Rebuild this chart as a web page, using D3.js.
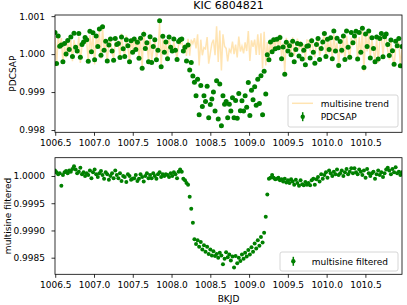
<!DOCTYPE html>
<meta charset="utf-8">
<script src="https://d3js.org/d3.v7.min.js"></script>
<style>
  body { margin: 0; background: #fff; }
  text { font-family: "DejaVu Sans", sans-serif; fill: #000; }
</style>
<div id="viz"></div>
<script>
// time stamps (BKJD)
const bjd = [
  1006.497, 1006.517, 1006.538, 1006.558, 1006.579, 1006.599, 1006.620, 1006.640, 1006.661, 1006.681,
  1006.701, 1006.722, 1006.742, 1006.763, 1006.783, 1006.804, 1006.824, 1006.845, 1006.865, 1006.885,
  1006.906, 1006.926, 1006.947, 1006.967, 1006.987, 1007.008, 1007.028, 1007.049, 1007.069, 1007.090,
  1007.110, 1007.130, 1007.151, 1007.171, 1007.192, 1007.212, 1007.233, 1007.253, 1007.274, 1007.294,
  1007.314, 1007.335, 1007.355, 1007.376, 1007.396, 1007.417, 1007.437, 1007.458, 1007.478, 1007.498,
  1007.519, 1007.539, 1007.560, 1007.580, 1007.600, 1007.621, 1007.641, 1007.662, 1007.682, 1007.703,
  1007.723, 1007.743, 1007.764, 1007.784, 1007.805, 1007.825, 1007.846, 1007.866, 1007.887, 1007.907,
  1007.927, 1007.948, 1007.968, 1007.989, 1008.009, 1008.030, 1008.050, 1008.071, 1008.091, 1008.111,
  1008.132, 1008.152, 1008.173, 1008.193, 1008.213, 1008.234, 1008.254, 1008.275, 1008.295, 1008.316,
  1008.336, 1008.356, 1008.377, 1008.397, 1008.418, 1008.438, 1008.459, 1008.479, 1008.500, 1008.520,
  1008.540, 1008.561, 1008.581, 1008.602, 1008.622, 1008.643, 1008.663, 1008.684, 1008.704, 1008.724,
  1008.745, 1008.765, 1008.786, 1008.806, 1008.826, 1008.847, 1008.867, 1008.888, 1008.908, 1008.929,
  1008.949, 1008.969, 1008.990, 1009.010, 1009.031, 1009.051, 1009.072, 1009.092, 1009.112, 1009.133,
  1009.153, 1009.174, 1009.194, 1009.215, 1009.235, 1009.256, 1009.276, 1009.297, 1009.317, 1009.337,
  1009.358, 1009.378, 1009.398, 1009.419, 1009.439, 1009.460, 1009.480, 1009.501, 1009.521, 1009.542,
  1009.562, 1009.582, 1009.603, 1009.623, 1009.644, 1009.664, 1009.685, 1009.705, 1009.726, 1009.746,
  1009.766, 1009.787, 1009.807, 1009.828, 1009.848, 1009.869, 1009.889, 1009.909, 1009.930, 1009.950,
  1009.971, 1009.991, 1010.011, 1010.032, 1010.052, 1010.073, 1010.093, 1010.114, 1010.134, 1010.155,
  1010.175, 1010.195, 1010.216, 1010.236, 1010.257, 1010.277, 1010.298, 1010.318, 1010.339, 1010.359,
  1010.379, 1010.400, 1010.420, 1010.441, 1010.461, 1010.481, 1010.502, 1010.522, 1010.543, 1010.563,
  1010.584, 1010.604, 1010.624, 1010.645, 1010.665, 1010.686, 1010.706, 1010.727, 1010.747, 1010.768,
  1010.788, 1010.808, 1010.829, 1010.849, 1010.870, 1010.890, 1010.910, 1010.931, 1010.951, 1010.972
];

// raw PDCSAP flux
const pdcsap = [
  1.00057, 0.99975, 1.00048, 1.00021, 1.00024, 0.99980, 1.00028, 1.00000, 1.00036, 1.00012,
  1.00045, 0.99994, 1.00055, 1.00018, 1.00008, 1.00054, 0.99992, 1.00025, 1.00032, 1.00044,
  1.00038, 0.99981, 1.00060, 1.00006, 1.00056, 0.99985, 1.00048, 1.00020, 1.00066, 0.99997,
  1.00072, 1.00010, 1.00034, 0.99982, 1.00024, 1.00040, 1.00008, 0.99984, 1.00041, 1.00025,
  1.00028, 0.99991, 1.00045, 1.00014, 0.99994, 1.00038, 1.00022, 0.99980, 1.00035, 1.00005,
  1.00040, 1.00012, 1.00031, 0.99989, 1.00042, 0.99963, 1.00052, 1.00015, 1.00030, 0.99980,
  1.00046, 0.99978, 1.00020, 1.00038, 0.99985, 1.00010, 1.00088, 0.99967, 1.00047, 1.00005,
  1.00032, 0.99988, 1.00045, 1.00018, 1.00008, 1.00040, 1.00010, 0.99986, 1.00033, 1.00038,
  1.00040, 1.00008, 1.00018, 0.99982, 1.00024, 0.99958, 0.99978, 0.99942, 0.99926, 0.99890,
  0.99934, 0.99840, 0.99917, 0.99862, 0.99890, 0.99875, 0.99915, 0.99832, 0.99867, 0.99882,
  0.99900, 0.99850, 0.99930, 0.99829, 0.99921, 0.99811, 0.99890, 0.99868, 0.99875, 0.99832,
  0.99868, 0.99850, 0.99885, 0.99832, 0.99878, 0.99831, 0.99896, 0.99851, 0.99877, 0.99850,
  0.99890, 0.99860, 0.99925, 0.99838, 0.99905, 0.99880, 0.99914, 0.99865, 0.99934, 0.99870,
  0.99943, 0.99840, 0.99955, 0.99895, 0.99998, 0.99985, 1.00032, 1.00006, 1.00038, 1.00014,
  1.00039, 1.00017, 1.00044, 0.99988, 1.00019, 0.99947, 1.00031, 1.00008, 1.00022, 0.99998,
  1.00034, 0.99980, 1.00012, 1.00028, 0.99995, 1.00026, 0.99987, 1.00010, 0.99972, 1.00021,
  1.00022, 0.99990, 1.00035, 1.00005, 0.99976, 1.00025, 1.00041, 0.99986, 1.00015, 1.00032,
  1.00054, 0.99994, 1.00039, 1.00012, 1.00043, 0.99988, 1.00061, 1.00008, 1.00042, 0.99970,
  1.00033, 1.00010, 1.00048, 0.99986, 1.00061, 1.00018, 0.99992, 1.00057, 1.00030, 1.00048,
  1.00060, 0.99987, 1.00057, 1.00005, 1.00068, 0.99965, 1.00053, 1.00020, 1.00061, 0.99990,
  1.00043, 1.00015, 0.99980, 1.00045, 0.99987, 1.00041, 1.00054, 0.99993, 1.00046, 1.00053,
  1.00025, 0.99996, 1.00037, 1.00009, 0.99973, 1.00034, 1.00022, 1.00041, 0.99969, 1.00020
];

// fitted multisine trend
const trend = [
  1.00047, 0.99968, 1.00045, 1.00016, 1.00042, 0.99978, 1.00021, 0.99991, 1.00031, 1.00002,
  1.00037, 0.99981, 1.00037, 1.00006, 1.00003, 1.00046, 0.99977, 1.00022, 1.00025, 1.00044,
  1.00033, 0.99979, 1.00050, 1.00010, 1.00049, 0.99973, 1.00045, 1.00022, 1.00061, 0.99988,
  1.00070, 1.00015, 1.00027, 0.99979, 1.00031, 1.00040, 1.00003, 0.99988, 1.00031, 1.00023,
  1.00032, 0.99986, 1.00054, 1.00014, 0.99996, 1.00049, 1.00019, 0.99980, 1.00042, 1.00010,
  1.00044, 1.00010, 1.00040, 0.99994, 1.00039, 0.99965, 1.00062, 1.00015, 1.00025, 0.99984,
  1.00044, 0.99982, 1.00015, 1.00038, 0.99990, 1.00007, 1.00081, 0.99969, 1.00044, 1.00005,
  1.00029, 0.99986, 1.00047, 1.00013, 1.00008, 1.00033, 1.00007, 0.99990, 1.00025, 1.00026,
  1.00032, 1.00013, 1.00026, 0.99995, 1.00040, 0.99996, 1.00038, 1.00028, 1.00042, 1.00015,
  1.00052, 0.99970, 1.00038, 0.99997, 1.00017, 1.00014, 1.00045, 0.99975, 1.00002, 1.00028,
  1.00038, 0.99997, 1.00073, 0.99979, 1.00062, 0.99957, 1.00052, 1.00020, 1.00015, 0.99981,
  1.00012, 1.00005, 1.00033, 1.00000, 1.00025, 0.99991, 1.00046, 1.00007, 1.00021, 1.00002,
  1.00031, 1.00008, 1.00061, 0.99982, 1.00036, 1.00019, 1.00038, 0.99998, 1.00052, 0.99998,
  1.00055, 0.99962, 1.00059, 0.99970, 1.00032, 0.99990, 1.00035, 1.00004, 1.00041, 1.00020,
  1.00044, 1.00020, 1.00052, 0.99994, 1.00029, 0.99952, 1.00043, 1.00016, 1.00035, 1.00004,
  1.00044, 0.99996, 1.00019, 1.00041, 1.00013, 1.00034, 1.00002, 1.00027, 0.99983, 1.00037,
  1.00035, 1.00007, 1.00043, 1.00010, 0.99992, 1.00031, 1.00043, 0.99996, 1.00012, 1.00037,
  1.00052, 0.99987, 1.00042, 1.00002, 1.00038, 0.99988, 1.00053, 1.00005, 1.00030, 0.99968,
  1.00028, 1.00000, 1.00048, 0.99979, 1.00048, 1.00015, 0.99984, 1.00043, 1.00025, 1.00034,
  1.00053, 0.99984, 1.00045, 0.99997, 1.00066, 0.99955, 1.00056, 1.00007, 1.00056, 0.99990,
  1.00038, 1.00007, 0.99985, 1.00042, 0.99977, 1.00039, 1.00047, 0.99995, 1.00041, 1.00041,
  1.00010, 0.99986, 1.00034, 0.99996, 0.99966, 1.00018, 1.00017, 1.00033, 0.99967, 1.00013
];

// PDCSAP with the multisine removed
const filtered = [
  1.00010, 1.00007, 1.00003, 1.00005, 0.99982, 1.00002, 1.00007, 1.00009, 1.00005, 1.00010,
  1.00008, 1.00013, 1.00018, 1.00012, 1.00005, 1.00008, 1.00015, 1.00003, 1.00007, 1.00000,
  1.00005, 1.00002, 1.00010, 0.99996, 1.00007, 1.00012, 1.00003, 0.99998, 1.00005, 1.00009,
  1.00002, 0.99995, 1.00007, 1.00003, 0.99993, 1.00000, 1.00005, 0.99996, 1.00010, 1.00002,
  0.99996, 1.00005, 0.99991, 1.00000, 0.99998, 0.99989, 1.00003, 1.00000, 0.99993, 0.99995,
  0.99996, 1.00002, 0.99991, 0.99995, 1.00003, 0.99998, 0.99990, 1.00000, 1.00005, 0.99996,
  1.00002, 0.99996, 1.00005, 1.00000, 0.99995, 1.00003, 1.00007, 0.99998, 1.00003, 1.00000,
  1.00003, 1.00002, 0.99998, 1.00005, 1.00000, 1.00007, 1.00003, 0.99996, 1.00008, 1.00012,
  1.00008, 0.99995, 0.99992, 0.99987, 0.99984, 0.99962, 0.99940, 0.99914, 0.99884, 0.99875,
  0.99882, 0.99870, 0.99879, 0.99865, 0.99873, 0.99861, 0.99870, 0.99857, 0.99865, 0.99854,
  0.99862, 0.99853, 0.99857, 0.99850, 0.99859, 0.99854, 0.99838, 0.99848, 0.99860, 0.99851,
  0.99856, 0.99845, 0.99852, 0.99832, 0.99853, 0.99840, 0.99850, 0.99844, 0.99856, 0.99848,
  0.99859, 0.99852, 0.99864, 0.99856, 0.99869, 0.99861, 0.99876, 0.99867, 0.99882, 0.99872,
  0.99888, 0.99878, 0.99896, 0.99925, 0.99966, 0.99995, 0.99997, 1.00002, 0.99997, 0.99994,
  0.99995, 0.99997, 0.99992, 0.99994, 0.99990, 0.99995, 0.99988, 0.99992, 0.99987, 0.99994,
  0.99990, 0.99984, 0.99993, 0.99987, 0.99982, 0.99992, 0.99985, 0.99983, 0.99989, 0.99984,
  0.99987, 0.99983, 0.99992, 0.99995, 0.99984, 0.99994, 0.99998, 0.99990, 1.00003, 0.99995,
  1.00002, 1.00007, 0.99997, 1.00010, 1.00005, 1.00000, 1.00008, 1.00003, 1.00012, 1.00002,
  1.00005, 1.00010, 1.00000, 1.00007, 1.00013, 1.00003, 1.00008, 1.00014, 1.00005, 1.00014,
  1.00007, 1.00003, 1.00012, 1.00008, 1.00002, 1.00010, 0.99997, 1.00013, 1.00005, 1.00000,
  1.00005, 1.00008, 0.99995, 1.00003, 1.00010, 1.00002, 1.00007, 0.99998, 1.00005, 1.00012,
  1.00015, 1.00010, 1.00003, 1.00013, 1.00007, 1.00016, 1.00005, 1.00008, 1.00002, 1.00007
];

const xTicks = [1006.5, 1007.0, 1007.5, 1008.0, 1008.5, 1009.0, 1009.5, 1010.0, 1010.5];
const topYTicks = [0.998, 0.999, 1.000, 1.001];
const bottomYTicks = [0.9985, 0.9990, 0.9995, 1.0000];

const W = 407, H = 305;
const plotLeft = 55, plotRight = 402;

const svg = d3.select("#viz").append("svg")
    .attr("width", W)
    .attr("height", H);

const x = d3.scaleLinear()
    .domain([bjd[0], bjd[bjd.length - 1]])
    .range([plotLeft, plotRight]);

const green = "#008000";

function panel(id, top, bottom, yDomain, yTicks, yFmt, yLabel, labelX) {
  const y = d3.scaleLinear().domain(yDomain).range([bottom, top]);

  svg.append("clipPath").attr("id", id)
    .append("rect")
      .attr("x", plotLeft).attr("y", top)
      .attr("width", plotRight - plotLeft).attr("height", bottom - top);

  const g = svg.append("g").attr("clip-path", `url(#${id})`);

  // x axis
  const xa = svg.append("g")
    .attr("transform", `translate(0,${bottom})`)
    .call(d3.axisBottom(x).tickValues(xTicks).tickFormat(d3.format(".1f"))
      .tickSize(3.5).tickPadding(3.8));
  // y axis
  const ya = svg.append("g")
    .attr("transform", `translate(${plotLeft},0)`)
    .call(d3.axisLeft(y).tickValues(yTicks).tickFormat(d3.format(yFmt))
      .tickSize(3.5).tickPadding(6.5));
  [xa, ya].forEach(a => {
    a.select(".domain").remove();
    a.selectAll("line").attr("stroke", "#000").attr("stroke-width", 0.8);
    a.selectAll("text").attr("font-size", 9).attr("font-family", "DejaVu Sans");
  });

  // frame
  svg.append("rect")
    .attr("x", plotLeft).attr("y", top)
    .attr("width", plotRight - plotLeft).attr("height", bottom - top)
    .attr("fill", "none").attr("stroke", "#000").attr("stroke-width", 0.8);

  svg.append("text")
    .attr("transform", `translate(${labelX},${(top + bottom) / 2}) rotate(-90)`)
    .attr("text-anchor", "middle")
    .attr("font-size", 9)
    .text(yLabel);

  return {g, y};
}

// ---- top panel: PDCSAP + trend
const p1 = panel("clipTop", 15, 132.3, [0.99794, 1.00103], topYTicks, ".3f", "PDCSAP", 15.5);

p1.g.append("path")
  .datum(bjd)
  .attr("fill", "none")
  .attr("stroke", "#ffa500")
  .attr("stroke-opacity", 0.3)
  .attr("stroke-width", 1.5)
  .attr("d", d3.line().x(d => x(d)).y((d, i) => p1.y(trend[i])));

p1.g.selectAll("circle")
  .data(bjd)
  .join("circle")
    .attr("cx", d => x(d))
    .attr("cy", (d, i) => p1.y(pdcsap[i]))
    .attr("r", 2.5)
    .attr("fill", green);

// ---- bottom panel: filtered
const p2 = panel("clipBottom", 157.7, 274.3, [0.998195, 1.000336], bottomYTicks, ".4f", "multisine filtered", 10.5);

p2.g.selectAll("circle")
  .data(bjd)
  .join("circle")
    .attr("cx", d => x(d))
    .attr("cy", (d, i) => p2.y(filtered[i]))
    .attr("r", 2)
    .attr("fill", green);

// title and x label
svg.append("text")
  .attr("x", (plotLeft + plotRight) / 2).attr("y", 8.5)
  .attr("text-anchor", "middle").attr("font-size", 11)
  .text("KIC 6804821");

svg.append("text")
  .attr("x", (plotLeft + plotRight) / 2).attr("y", 302)
  .attr("text-anchor", "middle").attr("font-size", 9)
  .text("BKJD");

// legends
function errMarker(cx, cy) {
  svg.append("line")
    .attr("x1", cx).attr("x2", cx).attr("y1", cy - 4.5).attr("y2", cy + 4.5)
    .attr("stroke", green).attr("stroke-width", 1.5);
  svg.append("circle").attr("cx", cx).attr("cy", cy).attr("r", 2.2).attr("fill", green);
}

svg.append("rect")
  .attr("x", 288).attr("y", 95).attr("width", 110).attr("height", 32).attr("rx", 2)
  .attr("fill", "#fff").attr("fill-opacity", 0.8)
  .attr("stroke", "#cccccc").attr("stroke-width", 0.8);
svg.append("line")
  .attr("x1", 292).attr("x2", 313).attr("y1", 103.3).attr("y2", 103.3)
  .attr("stroke", "#ffa500").attr("stroke-opacity", 0.3).attr("stroke-width", 1.5);
svg.append("text").attr("x", 320.7).attr("y", 106.5).attr("font-size", 9).text("multisine trend");
errMarker(302.7, 116.7);
svg.append("text").attr("x", 320.7).attr("y", 119.9).attr("font-size", 9).text("PDCSAP");

svg.append("rect")
  .attr("x", 280).attr("y", 252).attr("width", 118).attr("height", 19).attr("rx", 2)
  .attr("fill", "#fff").attr("fill-opacity", 0.8)
  .attr("stroke", "#cccccc").attr("stroke-width", 0.8);
errMarker(293.3, 261.3);
svg.append("text").attr("x", 311.7).attr("y", 264.5).attr("font-size", 9).text("multisine filtered");
</script>
